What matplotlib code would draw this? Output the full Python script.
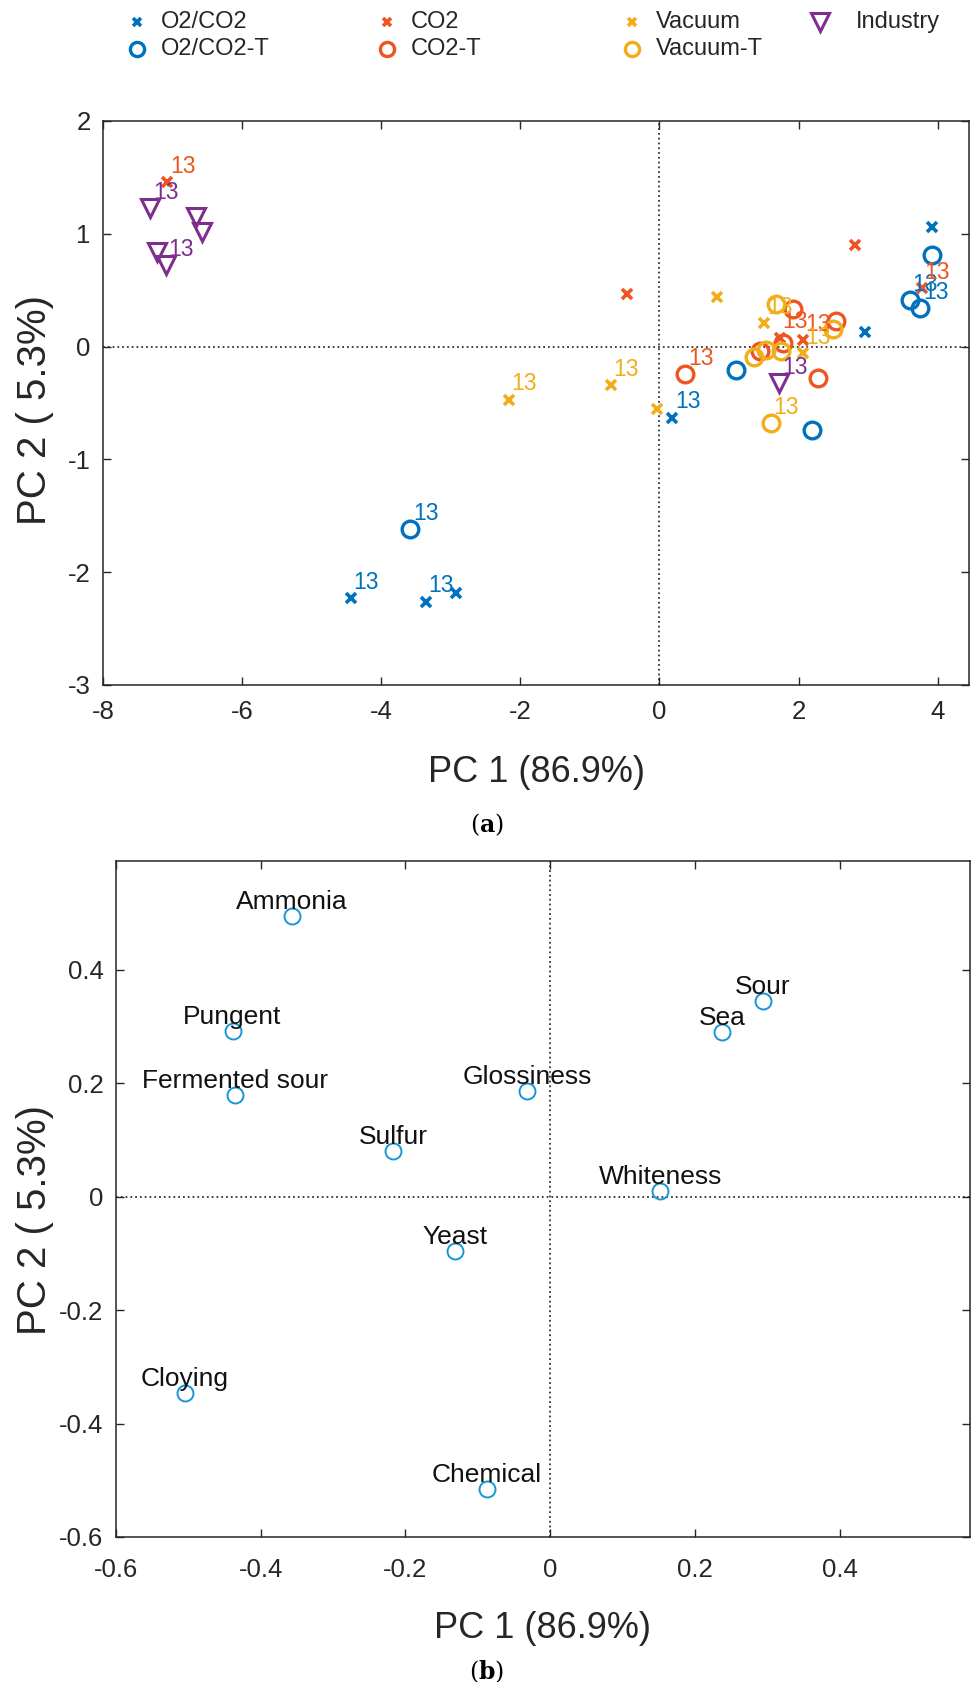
import numpy as np
import matplotlib.pyplot as plt
from matplotlib.lines import Line2D

plt.rcParams['font.family'] = ['Liberation Sans', 'DejaVu Sans']
plt.rcParams['mathtext.fontset'] = 'dejavuserif'
plt.rcParams['axes.unicode_minus'] = False

# --- panel (a): scores ---
o2co2_x = [3.92, 2.96, 0.18, -4.44, -3.36, -2.92]
o2co2_y = [1.06, 0.13, -0.63, -2.23, -2.26, -2.18]
o2co2_tag = ['', '', '13', '13', '13', '']

o2co2t_x = [3.92, 3.60, 3.75, 1.10, 2.20, -3.58]
o2co2t_y = [0.81, 0.41, 0.34, -0.21, -0.74, -1.62]
o2co2t_tag = ['', '13', '13', '', '', '13']

co2_x = [-7.08, -0.47, 2.81, 3.77, 1.73, 2.06]
co2_y = [1.46, 0.47, 0.90, 0.52, 0.08, 0.06]
co2_tag = ['13', '', '', '13', '13', '13']

co2t_x = [0.37, 1.92, 2.54, 1.44, 1.77, 2.28]
co2t_y = [-0.24, 0.33, 0.23, -0.04, 0.03, -0.28]
co2t_tag = ['13', '', '', '', '', '']

vac_x = [-2.17, -0.70, -0.04, 0.83, 1.51, 2.06]
vac_y = [-0.47, -0.34, -0.55, 0.44, 0.21, -0.06]
vac_tag = ['13', '13', '', '', '13', '13']

vact_x = [1.68, 2.50, 1.36, 1.53, 1.75, 1.60]
vact_y = [0.38, 0.16, -0.09, -0.03, -0.04, -0.68]
vact_tag = ['', '', '', '', '', '13']

ind_x = [-7.32, -6.67, -6.57, -7.22, -7.10, 1.72]
ind_y = [1.23, 1.15, 1.02, 0.84, 0.72, -0.32]
ind_tag = ['13', '', '', '', '13', '13']

# --- panel (b): loadings ---
attr_names = ['Ammonia', 'Pungent', 'Fermented sour', 'Glossiness', 'Sulfur',
              'Whiteness', 'Yeast', 'Cloying', 'Chemical', 'Sour', 'Sea']
load_x = [-0.357, -0.439, -0.435, -0.032, -0.217, 0.152, -0.131, -0.505, -0.088, 0.294, 0.238]
load_y = [0.495, 0.293, 0.180, 0.186, 0.081, 0.010, -0.095, -0.346, -0.515, 0.346, 0.290]

c_blue = '#0072BD'
c_red = '#EE5520'
c_yel = '#F2AE1A'
c_pur = '#7E2F8E'
c_load = '#1596D6'
frame = '#262626'

fig = plt.figure(figsize=(9.74, 16.82), dpi=100)
W, H = 974, 1682
ax1 = fig.add_axes([103 / W, 1 - 685 / H, (969 - 103) / W, (685 - 121) / H])
ax2 = fig.add_axes([116 / W, 1 - 1537 / H, (970 - 116) / W, (1537 - 861) / H])

groups = [
    (o2co2_x, o2co2_y, o2co2_tag, 'x', c_blue, 'O2/CO2'),
    (o2co2t_x, o2co2t_y, o2co2t_tag, 'o', c_blue, 'O2/CO2-T'),
    (co2_x, co2_y, co2_tag, 'x', c_red, 'CO2'),
    (co2t_x, co2t_y, co2t_tag, 'o', c_red, 'CO2-T'),
    (vac_x, vac_y, vac_tag, 'x', c_yel, 'Vacuum'),
    (vact_x, vact_y, vact_tag, 'o', c_yel, 'Vacuum-T'),
    (ind_x, ind_y, ind_tag, 'v', c_pur, 'Industry'),
]
msize = {'x': 7, 'o': 12, 'v': 13}
mwidth = {'x': 2.6, 'o': 2.4, 'v': 2.2}

# legend slots (column, row) in figure pixels
leg_text_x = [161, 411, 656, 856]
leg_row_y = [22, 49]
leg_slot = [(0, 0), (0, 1), (1, 0), (1, 1), (2, 0), (2, 1), (3, 0)]

for (gx, gy, tags, m, c, name), (col, row) in zip(groups, leg_slot):
    ax1.plot(gx, gy, ls='none', marker=m, mfc='none', mec=c,
             ms=msize[m], mew=mwidth[m], zorder=3)
    for xi, yi, t in zip(gx, gy, tags):
        if t:
            ax1.annotate(t, (xi, yi), xytext=(2, 3), textcoords='offset points',
                         color=c, fontsize=16.5, ha='left', va='bottom', zorder=4)
    tx = leg_text_x[col] / W
    ty = 1 - leg_row_y[row] / H
    mx = (leg_text_x[col] - (36 if m == 'v' else 24)) / W
    fig.add_artist(Line2D([mx], [ty], transform=fig.transFigure, ls='none', marker=m,
                          mfc='none', mec=c, ms=msize[m] * (1.0 if m == 'v' else 0.85),
                          mew=mwidth[m]))
    fig.text(tx, ty, name, ha='left', va='center', fontsize=17, color='#262626')

ax1.axhline(0, color='#333333', ls=':', lw=1.3, zorder=1)
ax1.axvline(0, color='#333333', ls=':', lw=1.3, zorder=1)
ax1.set_xlim(-8, 4.45)
ax1.set_ylim(-3, 2)
ax1.set_xticks(np.arange(-8, 5, 2))
ax1.set_yticks(np.arange(-3, 3, 1))

ax2.plot(load_x, load_y, ls='none', marker='o', mfc='none', mec=c_load, ms=11.5, mew=1.4, zorder=3)
for xi, yi, t in zip(load_x, load_y, attr_names):
    ax2.annotate(t, (xi, yi), xytext=(0, 5), textcoords='offset points',
                 color='#111111', fontsize=19, ha='center', va='baseline', zorder=4)
ax2.axhline(0, color='#333333', ls=':', lw=1.3, zorder=1)
ax2.axvline(0, color='#333333', ls=':', lw=1.3, zorder=1)
ax2.set_xlim(-0.6, 0.58)
ax2.set_ylim(-0.6, 0.592)
ax2.set_xticks([-0.6, -0.4, -0.2, 0, 0.2, 0.4])
ax2.set_xticklabels(['-0.6', '-0.4', '-0.2', '0', '0.2', '0.4'])
ax2.set_yticks([-0.6, -0.4, -0.2, 0, 0.2, 0.4])
ax2.set_yticklabels(['-0.6', '-0.4', '-0.2', '0', '0.2', '0.4'])

for ax in (ax1, ax2):
    for s in ax.spines.values():
        s.set_color(frame)
        s.set_linewidth(1.1)
    ax.tick_params(direction='in', top=True, right=True, length=6, width=1,
                   colors=frame, labelsize=18.5, labelcolor='#262626', pad=9)
    ax.set_xlabel('PC 1 (86.9%)', fontsize=26, color='#262626', va='center')
    ax.set_ylabel('PC 2 ( 5.3%)', fontsize=29, color='#262626', va='center')
ax1.tick_params(axis='x', pad=11)
ax2.tick_params(axis='x', pad=15)

ax1.xaxis.set_label_coords(0.5, (685 - 773) / 564)
ax1.yaxis.set_label_coords((35 - 103) / 866, (685 - 410) / 564)
ax2.xaxis.set_label_coords(0.5, (1537 - 1628) / 676)
ax2.yaxis.set_label_coords((35 - 116) / 854, (1537 - 1220) / 676)

fig.text(0.5, 1 - 825 / H, r'($\mathbf{a}$)', ha='center', va='center',
         fontsize=17, family='DejaVu Serif')
fig.text(0.5, 1 - 1672 / H, r'($\mathbf{b}$)', ha='center', va='center',
         fontsize=17, family='DejaVu Serif')

fig.savefig('out.png', dpi=100)
